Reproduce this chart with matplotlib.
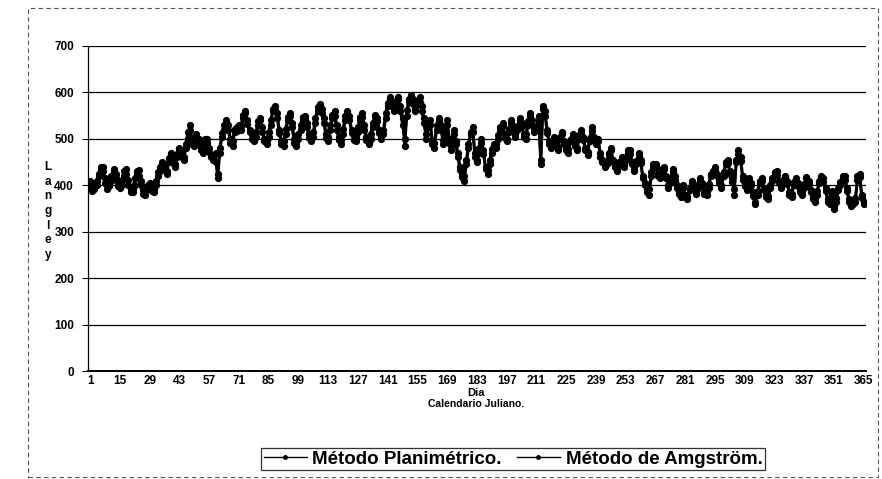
import matplotlib
matplotlib.use("Agg")
import matplotlib.pyplot as plt
from matplotlib.patches import Rectangle
import numpy as np

days = list(range(1, 366))
x_tick_labels = [str(d) for d in range(1, 366, 14)]
y_ticks = [0, 100, 200, 300, 400, 500, 600, 700]

planimetrico = [
    410, 395, 392, 400, 420, 435, 440, 415, 400, 398, 410, 430, 425, 405,
    395, 400, 420, 435, 412, 392, 385, 400, 425, 432, 410, 390, 380, 392,
    405, 395, 385, 400, 420, 430, 445, 440, 425, 450, 465, 455, 440, 460,
    475, 470, 455, 480, 500, 530, 495, 485, 505, 500, 480, 470, 495, 500,
    480, 465, 455, 470, 415, 470, 505, 520, 540, 530, 500, 485, 515, 525,
    530, 520, 545, 560, 540, 520, 510, 495, 505, 530, 545, 525, 500, 490,
    505, 530, 560, 570, 555, 520, 495, 485, 510, 540, 555, 535, 500, 485,
    500, 520, 540, 550, 535, 510, 495, 505, 535, 560, 575, 565, 545, 510,
    495, 520, 545, 560, 530, 505, 490, 510, 540, 560, 550, 520, 500, 495,
    515, 540, 555, 530, 505, 490, 500, 525, 550, 545, 520, 500, 510, 545,
    570, 590, 580, 560, 575, 590, 570, 545, 485, 550, 580, 595, 585, 560,
    575, 590, 570, 545, 500, 525, 540, 495, 480, 520, 545, 530, 490, 510,
    540, 500, 475, 520, 495, 470, 440, 425, 410, 445, 480, 510, 525, 470,
    450, 470, 500, 475, 440, 425, 445, 470, 490, 480, 500, 520, 535, 510,
    495, 515, 540, 525, 505, 520, 545, 535, 510, 500, 530, 555, 540, 515,
    520, 550, 445, 570, 560, 520, 495, 480, 505, 490, 475, 500, 515, 495,
    480, 470, 495, 510, 490, 475, 500, 520, 505, 480, 465, 495, 525, 505,
    490, 500, 470, 455, 440, 445, 465, 480, 455, 440, 430, 445, 460, 440,
    455, 470, 475, 450, 430, 445, 470, 455, 420, 405, 390, 380, 420, 440,
    445, 425, 415, 430, 440, 420, 395, 405, 435, 420, 400, 385, 375, 395,
    380, 370, 390, 405, 400, 385, 395, 410, 405, 385, 380, 395, 420, 430,
    440, 425, 410, 395, 420, 445, 455, 430, 415, 380, 450, 475, 460, 420,
    400, 390, 410, 405, 385, 360, 380, 405, 415, 395, 380, 370, 395, 410,
    425, 430, 410, 395, 405, 420, 410, 385, 375, 400, 415, 405, 390, 380,
    395, 415, 410, 390, 375, 365, 380, 405, 420, 415, 395, 370, 360, 380,
    350, 365, 390, 400, 415, 420, 395, 370, 355, 360, 365, 420, 425, 380,
    360,
]

amgstrom = [
    400, 388, 398, 410, 425, 440, 430, 405, 392, 405, 420, 435, 415, 398,
    402, 412, 430, 425, 400, 385, 392, 415, 430, 420, 400, 382, 388, 400,
    398, 388, 392, 410, 428, 440, 450, 432, 430, 458, 470, 448, 445, 468,
    480, 462, 460, 490, 515, 520, 488, 492, 510, 492, 475, 478, 500, 492,
    472, 460, 462, 450, 425, 480, 512, 530, 535, 520, 492, 495, 522, 518,
    525, 528, 552, 555, 532, 515, 500, 500, 515, 538, 540, 515, 495, 498,
    515, 540, 565, 562, 545, 512, 490, 495, 522, 548, 550, 525, 492, 492,
    510, 530, 548, 545, 525, 502, 500, 515, 545, 568, 570, 555, 535, 502,
    505, 530, 552, 550, 520, 498, 498, 522, 550, 555, 540, 512, 498, 505,
    525, 548, 548, 520, 498, 495, 510, 535, 552, 538, 512, 505, 520, 555,
    578, 585, 570, 565, 582, 585, 560, 530, 500, 562, 585, 590, 575, 565,
    582, 580, 560, 535, 510, 532, 530, 488, 492, 530, 540, 520, 498, 520,
    530, 492, 485, 510, 488, 460, 432, 418, 420, 455, 490, 515, 515, 462,
    455, 480, 492, 468, 435, 432, 455, 478, 485, 488, 508, 525, 528, 502,
    500, 522, 535, 518, 510, 528, 540, 528, 505, 510, 538, 550, 530, 520,
    528, 540, 455, 565, 550, 512, 490, 488, 500, 485, 482, 505, 510, 490,
    475, 478, 500, 505, 485, 480, 508, 515, 498, 475, 472, 502, 518, 498,
    492, 495, 462, 450, 445, 452, 470, 475, 450, 445, 435, 450, 455, 445,
    462, 475, 468, 445, 435, 452, 465, 448, 415, 400, 385, 392, 428, 445,
    440, 420, 420, 435, 435, 415, 400, 412, 430, 412, 395, 382, 380, 400,
    375, 378, 395, 410, 395, 382, 400, 415, 398, 382, 388, 402, 425, 425,
    435, 420, 405, 400, 428, 450, 448, 425, 408, 392, 455, 468, 452, 412,
    398, 395, 415, 400, 378, 365, 388, 410, 410, 390, 375, 378, 400, 415,
    428, 422, 405, 398, 412, 418, 402, 380, 382, 408, 412, 398, 385, 385,
    402, 418, 402, 385, 370, 372, 388, 410, 418, 408, 388, 365, 368, 388,
    355, 372, 395, 408, 420, 412, 388, 365, 358, 368, 372, 412, 418, 372,
    365,
]

plt.rcParams['font.family'] = ['Liberation Sans', 'DejaVu Sans']
plt.rcParams['font.weight'] = 'bold'

fig = plt.figure(figsize=(8.82, 4.79), dpi=100)
fig.patch.set_facecolor('white')

# outer chart border (dashed, like the scanned Excel chart area)
fig.patches.append(Rectangle((28 / 882, 0.005), 850 / 882, 1 - 8 / 479 - 0.005,
                             transform=fig.transFigure, fill=False,
                             edgecolor='#555555', linewidth=0.8,
                             linestyle=(0, (4, 3))))

ax = fig.add_axes([88 / 882, 1 - 371 / 479, 778 / 882, 325 / 479])

ax.plot(days, planimetrico, color='black', linewidth=2.0, marker='o',
        markersize=4.2, label='Método Planimétrico.')
ax.plot(days, amgstrom, color='black', linewidth=2.0, marker='o',
        markersize=4.2, label='Método de Amgström.')

ax.set_xlim(0, 366)
ax.set_ylim(0, 700)
ax.set_yticks(y_ticks)
ax.set_yticklabels([str(v) for v in y_ticks], fontsize=8.5, fontweight='bold')
ax.set_xticks(list(range(1, 366, 14)))
ax.set_xticklabels(x_tick_labels, fontsize=8.5, fontweight='bold')
ax.tick_params(axis='x', length=0, pad=3)
ax.tick_params(axis='y', length=4, direction='out', width=0.8, pad=6)

for v in y_ticks[1:]:
    ax.axhline(v, color='black', linewidth=0.9, zorder=0)

for s in ['top', 'right']:
    ax.spines[s].set_visible(False)
ax.spines['left'].set_linewidth(0.9)
ax.spines['bottom'].set_linewidth(1.4)

# stacked vertical y-label
fig.text(48 / 882, 1 - 211 / 479, "L\na\nn\ng\nl\ne\ny", ha='center', va='center',
         fontsize=8.5, fontweight='bold', linespacing=1.3)

fig.text(476 / 882, 1 - 393 / 479, "Dia", ha='center', va='center',
         fontsize=8, fontweight='bold')
fig.text(476 / 882, 1 - 404 / 479, "Calendario Juliano.", ha='center', va='center',
         fontsize=7.5, fontweight='bold')

leg = fig.legend(loc='center', bbox_to_anchor=(513 / 882, 1 - 459 / 479), ncol=2,
                 frameon=True, prop={'weight': 'bold', 'size': 13.5},
                 handlelength=2.3, handletextpad=0.3, columnspacing=0.8,
                 borderpad=0.15, fancybox=False, edgecolor='black')
leg.get_frame().set_linewidth(0.9)
for t in leg.get_texts():
    t.set_fontweight('bold')
for h in leg.legend_handles:
    h.set_markersize(2.5)
    h.set_linewidth(1.0)

fig.savefig("out.png", dpi=100, facecolor='white')
